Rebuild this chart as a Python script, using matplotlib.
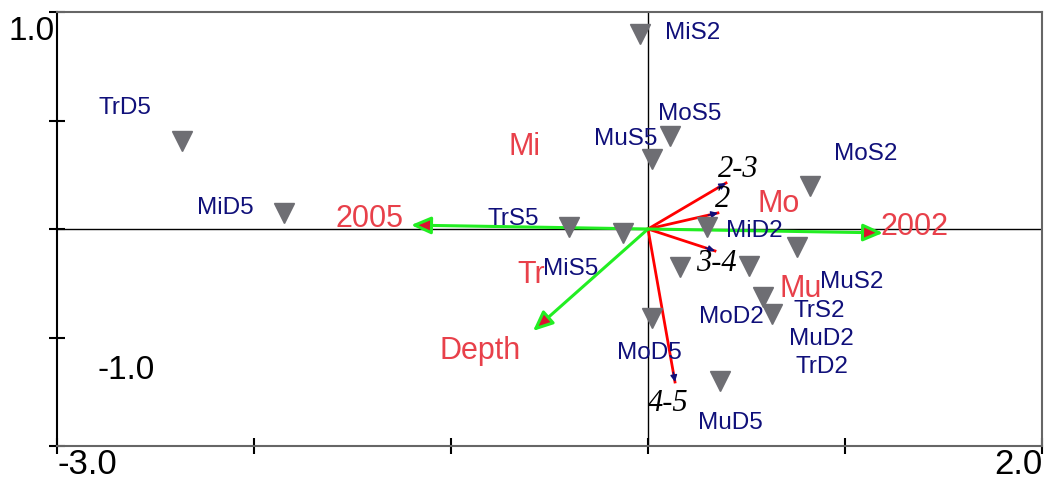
import numpy as np
import matplotlib.pyplot as plt

# samples (grey triangles)
sample_names = ["MiS2", "TrD5", "MiD5", "MoS5", "MuS5", "TrS5", "MiS5", "MiD2",
                "MoS2", "MuS2", "MoD2", "TrS2", "MuD2", "TrD2", "MoD5", "MuD5"]
sample_x = [-0.041, -2.365, -1.848, 0.112, 0.020, -0.401, -0.127, 0.299,
            0.822, 0.756, 0.162, 0.513, 0.584, 0.629, 0.020, 0.365]
sample_y = [0.899, 0.406, 0.074, 0.429, 0.323, 0.009, -0.018, 0.009,
            0.198, -0.083, -0.175, -0.171, -0.313, -0.392, -0.410, -0.700]
# where the sample labels sit
label_x = [0.228, -2.655, -2.147, 0.213, -0.112, -0.685, -0.391, 0.538,
           1.107, 1.036, 0.421, 0.868, 0.878, 0.883, 0.005, 0.416]
label_y = [0.903, 0.558, 0.097, 0.530, 0.415, 0.046, -0.184, -0.009,
           0.346, -0.244, -0.406, -0.378, -0.507, -0.636, -0.571, -0.894]

# species centroids (red text)
species = ["Mi", "Mo", "Tr", "Mu"]
species_x = [-0.629, 0.665, -0.594, 0.777]
species_y = [0.378, 0.115, -0.212, -0.276]

# environmental arrows (green)
env_names = ["2005", "2002", "Depth"]
env_x = [-1.203, 1.193, -0.584]
env_y = [0.018, -0.018, -0.470]
env_lx = [-1.416, 1.355, -0.853]
env_ly = [0.046, 0.009, -0.562]

# size class arrows (red with navy heads)
cls_names = ["2-3", "2", "3-4", "4-5"]
cls_x = [0.396, 0.355, 0.340, 0.137]
cls_y = [0.212, 0.074, -0.101, -0.705]
cls_lx = [0.457, 0.381, 0.345, 0.102]
cls_ly = [0.276, 0.134, -0.157, -0.806]

RED = '#e8404a'
NAVY = '#10107a'
GREEN = '#22ee22'
GREY = '#6e6e73'

plt.rcParams['font.family'] = ['Liberation Sans', 'DejaVu Sans']

fig = plt.figure(figsize=(10.47, 4.79), dpi=100)
ax = fig.add_axes([57 / 1047, 1 - 446 / 479, 985 / 1047, 434 / 479])
ax.set_xlim(-3.0, 2.0)
ax.set_ylim(-1.0, 1.0)

ax.axhline(0, color='black', lw=1, zorder=1)
ax.axvline(0, color='black', lw=1, zorder=1)

for sp in ['top', 'bottom', 'right']:
    ax.spines[sp].set_color('#666666')
    ax.spines[sp].set_linewidth(1.5)
ax.spines['left'].set_color('black')
ax.spines['left'].set_linewidth(1.5)

ax.set_xticks(np.arange(-3, 2.5, 1.0))
ax.set_yticks(np.arange(-1, 1.25, 0.5))
ax.tick_params(direction='inout', length=11, width=1.5, color='black',
               labelbottom=False, labelleft=False)

ax.text(-3.0, -1.01, "-3.0", fontsize=25, ha='left', va='top')
ax.text(2.0, -1.01, "2.0", fontsize=25, ha='right', va='top')
ax.text(-3.01, 0.91, "1.0", fontsize=24, ha='right', va='center')
ax.text(-2.65, -0.65, "-1.0", fontsize=24, ha='center', va='center')


def pix_dir(x, y):
    p0 = ax.transData.transform((0, 0))
    p1 = ax.transData.transform((x, y))
    d = p1 - p0
    return d / np.hypot(*d)


# red class arrows
for x, y in zip(cls_x, cls_y):
    ax.plot([0, x], [0, y], color='red', lw=2, zorder=2)
    d = pix_dir(x, y) * 10
    ax.annotate('', xy=(x, y), xytext=(-d[0], -d[1]), textcoords='offset pixels',
                arrowprops=dict(arrowstyle='-|>', color=NAVY, lw=1,
                                mutation_scale=10, shrinkA=0, shrinkB=0),
                zorder=3)

# green environmental arrows
for x, y in zip(env_x, env_y):
    ax.annotate('', xy=(x, y), xytext=(0, 0),
                arrowprops=dict(arrowstyle='-|>,head_length=0.8,head_width=0.35',
                                ec=GREEN, fc='#dd1030', lw=2.2,
                                mutation_scale=15, shrinkA=0, shrinkB=0),
                zorder=2)

ax.plot(sample_x, sample_y, 'v', color=GREY, markersize=14, zorder=4)

for n, x, y in zip(sample_names, label_x, label_y):
    ax.text(x, y, n, color=NAVY, fontsize=17.5, ha='center', va='center', zorder=5)
for n, x, y in zip(species, species_x, species_y):
    ax.text(x, y, n, color=RED, fontsize=22, ha='center', va='center', zorder=5)
for n, x, y in zip(env_names, env_lx, env_ly):
    ax.text(x, y, n, color=RED, fontsize=22, ha='center', va='center', zorder=5)
for n, x, y in zip(cls_names, cls_lx, cls_ly):
    ax.text(x, y, n, color='black', fontsize=22, ha='center', va='center',
            family='Liberation Serif', style='italic', zorder=5)

fig.savefig('out.png', dpi=100)
